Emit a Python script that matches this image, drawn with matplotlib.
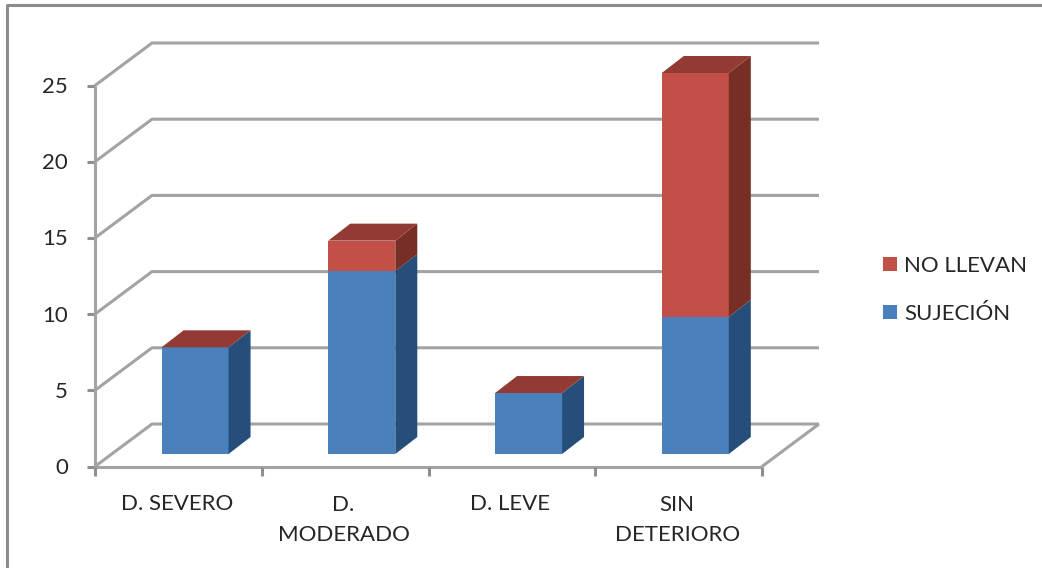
import matplotlib
matplotlib.use("Agg")
import matplotlib.pyplot as plt
from matplotlib.patches import Polygon, Rectangle
from matplotlib.lines import Line2D

categories = ["D. SEVERO", "D.\nMODERADO", "D. LEVE", "SIN\nDETERIORO"]
sujecion = [7, 12, 4, 9]
no_llevan = [0, 2, 0, 16]
y_ticks = [0, 5, 10, 15, 20, 25]
series_names = ["SUJECIÓN", "NO LLEVAN"]

W, H = 1042, 568
plt.rcParams["font.family"] = ["Lato", "DejaVu Sans"]
fig = plt.figure(figsize=(W / 100, H / 100), dpi=100, facecolor="white")

# front plane of the pseudo-3D box, in pixels
L, R, B, T = 95.0, 762.0, 466.5, 85.5
ax = fig.add_axes([L / W, 1 - B / H, (R - L) / W, (B - T) / H])
ax.set_xlim(0, len(categories))
ax.set_ylim(0, 25)
ax.axis("off")

px = len(categories) / (R - L)     # data units per pixel
py = 25 / (B - T)

GRID = "#a3a3a3"
DX, DY = 57 * px, 42.5 * py        # wall depth

def seg(xs, ys, lw=2.2, color=GRID, z=1):
    ax.add_line(Line2D(xs, ys, color=color, lw=lw, clip_on=False, zorder=z,
                       solid_capstyle="butt"))

# gridlines on side wall and back wall
for v in y_ticks:
    seg([0, DX, len(categories) + DX], [v, v + DY, v + DY])
    seg([-8 * px, 0], [v, v], color="#8f8f8f")
    ax.text(-27 * px, v - 1.5 * py, str(v), ha="right", va="center", fontsize=16,
            color="#262626", clip_on=False)

# axes and floor
seg([0, 0], [0, 25])
seg([0, 4], [0, 0])
seg([4, 4 + DX], [0, DY])
for i in range(len(categories) + 1):
    seg([i, i], [0, -9 * py], color="#8f8f8f")

# bars
BW = 67 * px
OY = 12.5 * py   # bar shift towards back
BDX, BDY = 22 * px, 17 * py
COL = {
    "SUJECIÓN": ("#4a81bd", "#254e7a", "#3b6796"),
    "NO LLEVAN": ("#c25046", "#772f25", "#923a33"),
}

for i, (a, b) in enumerate(zip(sujecion, no_llevan)):
    x0 = i + 0.5 - BW / 2 + 0.10
    x1 = x0 + BW
    base = OY
    for name, val in [("SUJECIÓN", a), ("NO LLEVAN", b)]:
        if val <= 0:
            continue
        f, s, t = COL[name]
        ax.add_patch(Rectangle((x0, base), BW, val, fc=f, ec="none", zorder=3, clip_on=False))
        ax.add_patch(Polygon([(x1, base), (x1 + BDX, base + BDY),
                              (x1 + BDX, base + val + BDY), (x1, base + val)],
                             fc=s, ec="none", zorder=3, clip_on=False))
        base += val
    # the top face is always drawn in the red series colour in the reference
    ax.add_patch(Polygon([(x0, base), (x1, base), (x1 + BDX, base + BDY), (x0 + BDX, base + BDY)],
                         fc=COL["NO LLEVAN"][2], ec="none", zorder=4, clip_on=False))

    if "\n" in categories[i]:
        ax.text(i + 0.5 - 1.5 * px, -28.5 * py, categories[i], ha="center", va="top",
                fontsize=16, color="#262626", clip_on=False, linespacing=1.6)
    else:
        ax.text(i + 0.5 - 1.5 * px, -37.5 * py, categories[i], ha="center", va="center",
                fontsize=16, color="#262626", clip_on=False)

# legend
for name, ypx in zip(series_names, [312, 264]):
    fig.patches.append(Rectangle((883 / W, 1 - (ypx + 7) / H), 14 / W, 14 / H,
                                 transform=fig.transFigure, fc=COL[name][0], ec="none"))
    fig.text(904 / W, 1 - (ypx + 1.5) / H, name, ha="left", va="center", fontsize=16, color="#262626")

# outer frame: left and top sides only are visible in the reference
fig.add_artist(Line2D([7 / W, 7 / W, 1], [0, 1 - 5 / H, 1 - 5 / H],
                      color="#8c8c8c", lw=2.2, transform=fig.transFigure))

fig.savefig("out.png", dpi=100)
